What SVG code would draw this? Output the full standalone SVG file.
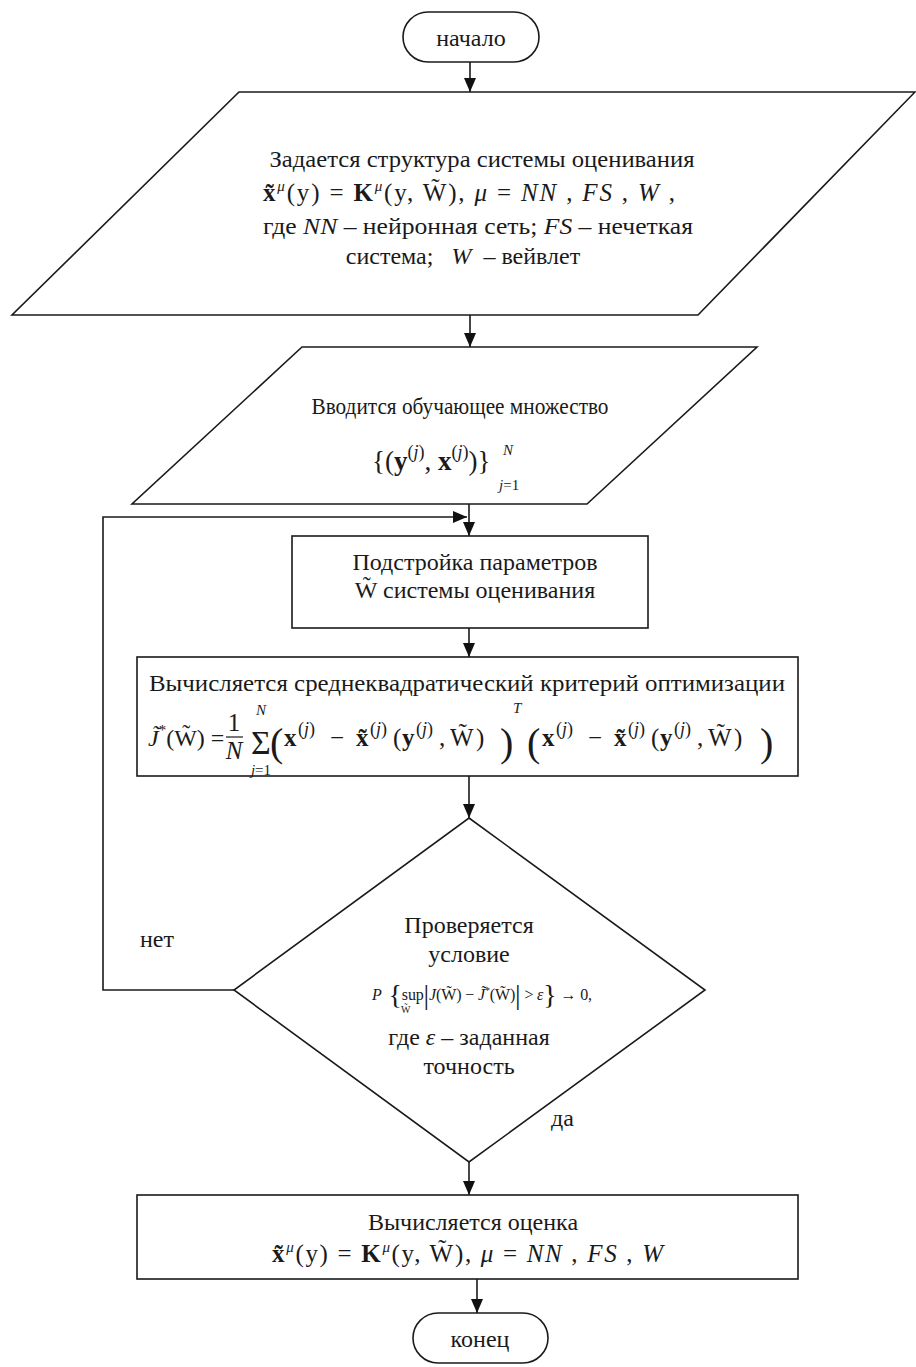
<svg xmlns="http://www.w3.org/2000/svg" width="916" height="1367" viewBox="0 0 916 1367" font-family="'Liberation Serif','Times New Roman',serif">
<defs>
<marker id="ah" viewBox="0 0 14 12" refX="14" refY="6" markerWidth="14" markerHeight="12" markerUnits="userSpaceOnUse" orient="auto"><path d="M0,0 L14,6 L0,12 z" fill="#111"/></marker>
<style>
.s{fill:#fff;stroke:#1a1a1a;stroke-width:1.6}
.c{fill:none;stroke:#1a1a1a;stroke-width:1.6}
text{font-family:"Liberation Serif","Times New Roman",serif;fill:#1a1a1a}
.t{font-size:24px}
.m{font-size:25px}
.i{font-style:italic}
.b{font-weight:bold}
.sm{font-size:15px}
.sj{font-size:18px}
.bp{font-size:40px}
</style>
<g id="expr">
<text class="m b" x="0" y="0">x</text>
<text class="sj" x="14" y="-11">(<tspan class="i">j</tspan>)</text>
<text class="m" x="46" y="0">−</text>
<text class="m b" x="72" y="0">x̃</text>
<text class="sj" x="86" y="-11">(<tspan class="i">j</tspan>)</text>
<text class="m" x="109" y="0">(</text>
<text class="m b" x="118" y="0">y</text>
<text class="sj" x="132" y="-11">(<tspan class="i">j</tspan>)</text>
<text class="m" x="155" y="0">,</text>
<text class="m" x="166" y="0">W̃</text>
<text class="m" x="192" y="0">)</text>
</g>
</defs>
<rect width="916" height="1367" fill="#fff"/>

<g id="connectors">
<line class="c" x1="470" y1="62" x2="470" y2="92" marker-end="url(#ah)"/>
<line class="c" x1="470" y1="315" x2="470" y2="347" marker-end="url(#ah)"/>
<line class="c" x1="469" y1="504" x2="469" y2="536" marker-end="url(#ah)"/>
<polyline class="c" points="234,990 103,990 103,517 467,517" marker-end="url(#ah)"/>
<line class="c" x1="469" y1="628" x2="469" y2="657" marker-end="url(#ah)"/>
<line class="c" x1="469" y1="776" x2="469" y2="818" marker-end="url(#ah)"/>
<line class="c" x1="469" y1="1162" x2="469" y2="1195" marker-end="url(#ah)"/>
<line class="c" x1="477" y1="1279" x2="477" y2="1313" marker-end="url(#ah)"/>
<text class="t" x="140" y="947">нет</text>
<text class="t" x="551" y="1126">да</text>
</g>

<g id="start">
<rect class="s" x="403" y="12" width="136" height="50" rx="25"/>
<text class="t" x="471" y="46" text-anchor="middle">начало</text>
</g>

<g id="structure">
<polygon class="s" points="239,92 915,92 698,315 12,315"/>
<text class="t" x="482" y="167" text-anchor="middle" textLength="425" lengthAdjust="spacingAndGlyphs">Задается структура системы оценивания</text>
<text class="m" x="263" y="201" textLength="412" lengthAdjust="spacing"><tspan class="b">x̃</tspan><tspan class="sm i" dy="-10">μ</tspan><tspan dy="10">(y) = </tspan><tspan class="b">K</tspan><tspan class="sm i" dy="-10">μ</tspan><tspan dy="10">(y, W̃), </tspan><tspan class="i">μ</tspan> = <tspan class="i">NN</tspan>  , <tspan class="i">FS</tspan>  , <tspan class="i">W</tspan>  ,</text>
<text class="t" x="478" y="234" text-anchor="middle" textLength="430" lengthAdjust="spacingAndGlyphs">где <tspan class="i">NN</tspan> – нейронная сеть; <tspan class="i">FS</tspan> – нечеткая</text>
<text class="t" x="463" y="264" text-anchor="middle" style="white-space:pre">система;   <tspan class="i">W</tspan>  – вейвлет</text>
</g>

<g id="input">
<polygon class="s" points="302,347 757,347 587,504 132,504"/>
<text class="t" x="460" y="414" text-anchor="middle" textLength="297" lengthAdjust="spacingAndGlyphs">Вводится обучающее множество</text>
<text style="font-size:27px" x="372" y="470">{(<tspan class="b">y</tspan><tspan class="sj" dy="-12">(</tspan><tspan class="sj i">j</tspan><tspan class="sj">)</tspan><tspan dy="12">, </tspan><tspan class="b">x</tspan><tspan class="sj" dy="-12">(</tspan><tspan class="sj i">j</tspan><tspan class="sj">)</tspan><tspan dy="12">)}</tspan></text>
<text class="sm i" x="503" y="455">N</text>
<text class="sm" x="499" y="490"><tspan class="i">j</tspan>=1</text>
</g>

<g id="tune">
<rect class="s" x="292" y="536" width="356" height="92"/>
<text class="t" x="475" y="570" text-anchor="middle">Подстройка параметров</text>
<text class="t" x="475" y="598" text-anchor="middle">W̃  системы оценивания</text>
</g>

<g id="criterion">
<rect class="s" x="137" y="657" width="661" height="119"/>
<text class="t" x="467" y="691" text-anchor="middle" textLength="636" lengthAdjust="spacingAndGlyphs">Вычисляется среднеквадратический критерий оптимизации</text>
<text style="font-size:24px" x="148" y="746"><tspan class="i">J̃</tspan><tspan class="sm" dy="-11">*</tspan><tspan dy="11">(W̃) =</tspan></text>
<text class="m" x="234" y="731" text-anchor="middle">1</text>
<line x1="226" y1="737" x2="243" y2="737" stroke="#1a1a1a" stroke-width="1.2"/>
<text class="m i" x="234" y="759" text-anchor="middle">N</text>
<text x="261" y="754" text-anchor="middle" style="font-size:34px">Σ</text>
<text class="sm i" x="261" y="715" text-anchor="middle">N</text>
<text class="sm" x="261" y="775" text-anchor="middle"><tspan class="i">j</tspan>=1</text>
<text class="bp" x="270" y="756">(</text>
<use href="#expr" x="284" y="746"/>
<text class="bp" x="500" y="756">)</text>
<text class="sm i" x="513" y="713">T</text>
<text class="bp" x="527" y="756">(</text>
<use href="#expr" x="542" y="746"/>
<text class="bp" x="760" y="756">)</text>
</g>

<g id="check">
<polygon class="s" points="469,818 705,990 469,1162 234,990"/>
<text class="t" x="469" y="933" text-anchor="middle">Проверяется</text>
<text class="t" x="469" y="962" text-anchor="middle">условие</text>
<text style="font-size:16px" x="372" y="1000" textLength="220" lengthAdjust="spacing"><tspan class="i">P</tspan><tspan style="font-size:28px" dy="4"> {</tspan><tspan dy="-4">sup</tspan><tspan style="font-size:28px" dy="4">|</tspan><tspan class="i" dy="-4">J</tspan>(W̃) − <tspan class="i">J̃</tspan><tspan style="font-size:10px" dy="-6">*</tspan><tspan dy="6">(W̃)</tspan><tspan style="font-size:28px" dy="4">|</tspan><tspan dy="-4"> &gt; </tspan><tspan class="i">ε</tspan><tspan style="font-size:28px" dy="4">}</tspan><tspan dy="-4"> → 0,</tspan></text>
<text style="font-size:10px" x="401" y="1013">W̃</text>
<text class="t" x="469" y="1045" text-anchor="middle">где  <tspan class="i">ε</tspan> – заданная</text>
<text class="t" x="469" y="1074" text-anchor="middle">точность</text>
</g>

<g id="estimate">
<rect class="s" x="137" y="1195" width="661" height="84"/>
<text class="t" x="473" y="1230" text-anchor="middle">Вычисляется оценка</text>
<text class="m" x="272" y="1262" textLength="391" lengthAdjust="spacing"><tspan class="b">x̃</tspan><tspan class="sm i" dy="-10">μ</tspan><tspan dy="10">(y) = </tspan><tspan class="b">K</tspan><tspan class="sm i" dy="-10">μ</tspan><tspan dy="10">(y, W̃), </tspan><tspan class="i">μ</tspan> = <tspan class="i">NN</tspan>  , <tspan class="i">FS</tspan>  , <tspan class="i">W</tspan></text>
</g>

<g id="end">
<rect class="s" x="413" y="1313" width="135" height="50" rx="25"/>
<text class="t" x="480" y="1347" text-anchor="middle">конец</text>
</g>
</svg>
